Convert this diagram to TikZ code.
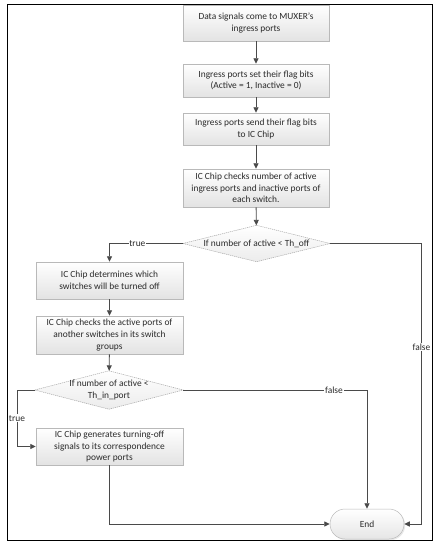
\documentclass[tikz,border=0pt]{standalone}
\usepackage{fontspec}
\setmainfont{Carlito}
\usetikzlibrary{arrows.meta,shadows}
\definecolor{lncol}{HTML}{4A4A4A}
\definecolor{txtcol}{HTML}{2A2A2A}
\tikzset{
  procbox/.style={rectangle, draw=gray!55, line width=0.5pt, top color=white, bottom color=gray!22,
    drop shadow={opacity=0.18, shadow xshift=1.2pt, shadow yshift=-1.2pt},
    align=center, font=\fontsize{9.4}{11.6}\selectfont, text=txtcol, inner sep=1pt},
  decbox/.style={rectangle, inner sep=0pt, align=center, font=\fontsize{9.4}{11.6}\selectfont, text=txtcol},
  decshape/.style={draw=gray!70, line width=0.5pt, dash pattern=on 1.2pt off 0.8pt, top color=white, bottom color=gray!15},
  termbox/.style={rectangle, rounded corners=15pt, draw=gray!55, line width=0.5pt, top color=white, bottom color=gray!20,
    drop shadow={opacity=0.18, shadow xshift=1.2pt, shadow yshift=-1.2pt},
    font=\fontsize{9.4}{11.6}\selectfont, text=txtcol},
  flow/.style={draw=lncol, line width=0.9pt, -{Triangle[length=5.5pt,width=5pt]}},
  lbl/.style={fill=white, inner sep=0.8pt, font=\fontsize{9.4}{11}\selectfont, text=txtcol},
}
\begin{document}
\begin{tikzpicture}[x=1pt,y=-1pt]
\useasboundingbox (0,0) rectangle (439,550);
\draw[black, line width=1pt] (7,4) rectangle (432,540);

\node[procbox, minimum width=146pt, minimum height=36pt] (b1) at (256,23) {Data signals come to MUXER's\\ingress ports};
\node[procbox, minimum width=146pt, minimum height=33pt] (b2) at (256,80.5) {Ingress ports set their flag bits\\(Active = 1, Inactive = 0)};
\node[procbox, minimum width=146pt, minimum height=32pt] (b3) at (256,129) {Ingress ports send their flag bits\\to IC Chip};
\node[procbox, minimum width=146pt, minimum height=38pt] (b4) at (256,188) {IC Chip checks number of active\\ingress ports and inactive ports of\\each switch.};

\node[decbox, minimum width=147pt, minimum height=36pt] (d1) at (256.5,243.5) {If number of active < Th\_off};

\node[procbox, minimum width=147pt, minimum height=37pt] (b5) at (109.5,280.5) {IC Chip determines which\\switches will be turned off};
\node[procbox, minimum width=147pt, minimum height=38pt] (b6) at (109.5,335) {IC Chip checks the active ports of\\another switches in its switch\\groups};

\node[decbox, minimum width=148pt, minimum height=38pt] (d2) at (109,390) {If number of active <\\Th\_in\_port};

\node[procbox, minimum width=147pt, minimum height=37pt] (b7) at (109.5,446.5) {IC Chip generates turning-off\\signals to its correspondence\\power ports};

\node[termbox, minimum width=74pt, minimum height=30pt] (end) at (367,524) {End};

% diamond outlines, with the text set again on top
\path[decshape] (d1.north) -- (d1.east) -- (d1.south) -- (d1.west) -- cycle;
\path[decshape] (d2.north) -- (d2.east) -- (d2.south) -- (d2.west) -- cycle;
\node[decbox] at (d1) {If number of active < Th\_off};
\node[decbox] at (d2) {If number of active <\\Th\_in\_port};

\coordinate (c1) at (421.5,243.5);
\coordinate (c2) at (17,390);

\draw[flow] (b1) -- (b2);
\draw[flow] (b2) -- (b3);
\draw[flow] (b3) -- (b4);
\draw[flow] (b4) -- (d1);
\draw[flow] (d1.west) -| node[lbl, pos=0.31] {true} (b5.north);
\draw[flow] (b5) -- (b6);
\draw[flow] (b6) -- (d2);
\draw[flow] (d2.west) -- (c2) |- node[lbl, pos=0.25] {true} (b7.west);
\draw[flow] (d2.east) -| node[lbl, pos=0.41] {false} (end.north);
\draw[flow] (b7.south) |- (end.west);
\draw[flow] (d1.east) -- (c1) |- node[lbl, pos=0.185] {false} (end.east);
\end{tikzpicture}
\end{document}
